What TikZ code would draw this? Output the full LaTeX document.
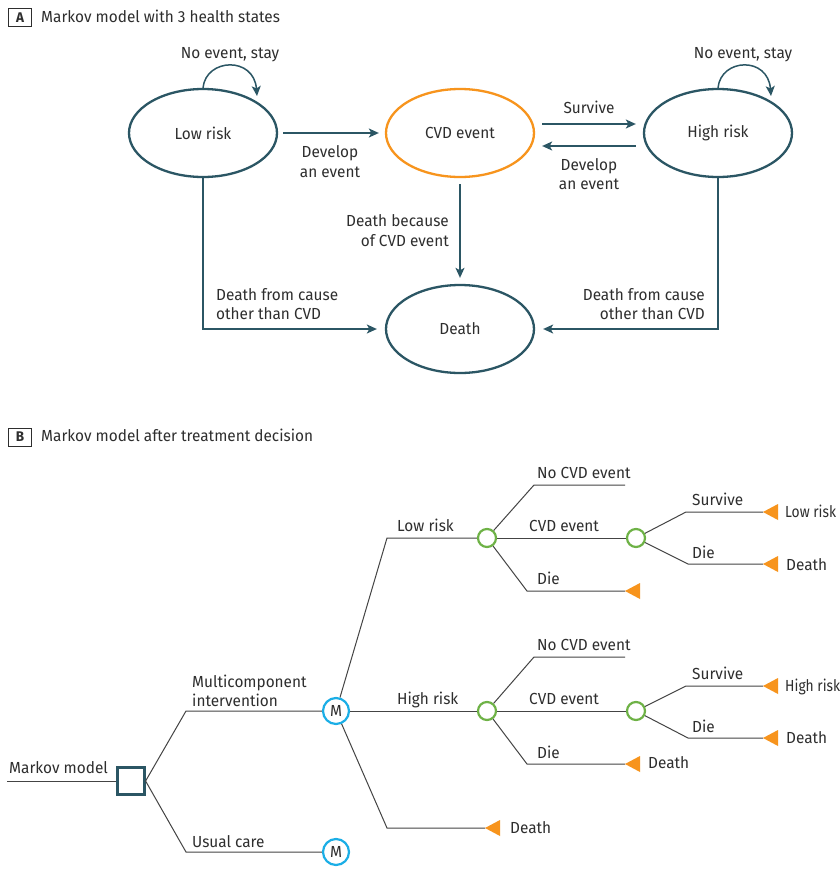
\documentclass[tikz,border=0pt]{standalone}
\usepackage{fontspec}
\setmainfont{Fira Sans}[FakeStretch=0.96]
\usetikzlibrary{arrows.meta,shapes.geometric,calc}
\definecolor{mteal}{HTML}{2B5664}
\definecolor{morange}{HTML}{F7941D}
\definecolor{mgreen}{HTML}{6EB246}
\definecolor{mcyan}{HTML}{1BAEE6}
\definecolor{mtext}{HTML}{2E2E2E}
\definecolor{mline}{HTML}{444444}
\tikzset{
  state/.style={ellipse, draw=mteal, line width=2.3pt, minimum width=148pt, minimum height=88pt, inner sep=0pt, text=mtext},
  cvdstate/.style={state, draw=morange},
  arr/.style={draw=mteal, line width=1.5pt, -{Stealth[length=10pt,width=9pt,inset=2.5pt]}},
  lbl/.style={text=mtext, inner sep=0pt},
  tree/.style={draw=mline, line width=1pt},
  chance/.style={circle, draw=mgreen, line width=2.2pt, minimum size=18pt, inner sep=0pt},
  markov/.style={circle, draw=mcyan, line width=2.2pt, minimum size=26pt, inner sep=0pt, text=mtext},
  decision/.style={rectangle, draw=mteal, line width=2.2pt, minimum size=27pt, inner sep=0pt},
  tag/.style={draw=mtext, line width=1pt, minimum width=23pt, minimum height=18pt, inner sep=0pt, text=mtext, font=\fontsize{14}{16}\selectfont\bfseries},
  term/.pic={\fill[morange] (0,0) -- (15,-8) -- (15,8) -- cycle;}
}
\begin{document}
\begin{tikzpicture}[x=1pt,y=-1pt,font=\fontsize{16}{19}\selectfont]
\useasboundingbox[fill=white] (0,0) rectangle (840,871);

% ---------------- Panel A ----------------
\node[tag] (tagA) at (20,17.5) {A};
\node[lbl, anchor=base west] (titleA) at (41,22) {Markov model with 3 health states};

\node[state] (low) at (203,133) {Low risk};
\node[cvdstate] (cvd) at (460,133) {CVD event};
\node[state] (high) at (718,133) {High risk};
\node[state] (death) at (460,329) {Death};

% self loops
\coordinate (lowloop) at (257,96);
\coordinate (highloop) at (771,96);
\draw[arr] (low.north) .. controls (206,58) and (254,56) .. (lowloop);
\draw[arr] (high.north) .. controls (721,58) and (768,56) .. (highloop);
\node[lbl, anchor=base] (lNo1) at (230,58) {No event, stay};
\node[lbl, anchor=base] (lNo2) at (743,58) {No event, stay};

% low -> cvd
\draw[arr] ([xshift=5pt]low.east) -- ([xshift=-6pt]cvd.west);
\node[lbl, anchor=base] (lDev1a) at (330,157) {Develop};
\node[lbl, anchor=base] (lDev1b) at (330,177) {an event};

% cvd <-> high
\draw[arr] ([xshift=7pt,yshift=9pt]cvd.east) -- ([xshift=-7pt,yshift=9pt]high.west);
\draw[arr] ([xshift=-7pt,yshift=-13pt]high.west) -- ([xshift=7pt,yshift=-13pt]cvd.east);
\node[lbl, anchor=base] (lSurv) at (589,113) {Survive};
\node[lbl, anchor=base] (lDev2a) at (589,170) {Develop};
\node[lbl, anchor=base] (lDev2b) at (589,189) {an event};

% to death
\draw[arr] ([yshift=-6pt]cvd.south) -- ([yshift=6pt]death.north);
\node[lbl, anchor=base east] (lDbc1) at (449,226) {Death because};
\node[lbl, anchor=base east] (lDbc2) at (449,246) {of CVD event};

\draw[arr] (low.south) |- ([xshift=-8pt]death.west);
\draw[arr] (high.south) |- ([xshift=8pt]death.east);
\node[lbl, anchor=base west] (lOth1) at (216,300) {Death from cause};
\node[lbl, anchor=base west] (lOth2) at (216,319) {other than CVD};
\node[lbl, anchor=base east] (lOth3) at (705,300) {Death from cause};
\node[lbl, anchor=base east] (lOth4) at (705,319) {other than CVD};

% ---------------- Panel B ----------------
\node[tag] (tagB) at (20,437) {B};
\node[lbl, anchor=base west] (titleB) at (41,441) {Markov model after treatment decision};

\coordinate (root) at (7,781);
\node[decision] (dec) at (131,781) {};
\node[markov] (m1) at (336,711) {M};
\node[markov] (m2) at (336,852) {M};
\draw[tree] (root) -- (dec.west);
\node[lbl, anchor=base west] (lMm) at (9,773) {Markov model};

\coordinate (kMc) at (186,711);
\coordinate (kUc) at (186,852);
\draw[tree] (dec.east) -- (kMc) -- (m1);
\draw[tree] (dec.east) -- (kUc) -- (m2);
\node[lbl, anchor=base west] (lMc1) at (192,687) {Multicomponent};
\node[lbl, anchor=base west] (lMc2) at (192,706) {intervention};
\node[lbl, anchor=base west] (lUc) at (192,847) {Usual care};

% chance nodes
\node[chance] (c1) at (487,538) {};
\node[chance] (c2) at (636,538) {};
\node[chance] (c3) at (487,711) {};
\node[chance] (c4) at (636,711) {};

\coordinate (kLow) at (387,538);
\coordinate (kDth) at (387,828);
\coordinate (t7) at (485,828);
\draw[tree] (m1) -- (kLow) -- (c1);
\draw[tree] (m1) -- (c3);
\draw[tree] (m1) -- (kDth) -- (t7);
\pic at (t7) {term};
\node[lbl, anchor=base west] (lLow) at (397,531) {Low risk};
\node[lbl, anchor=base west] (lHigh) at (397,704) {High risk};
\node[lbl, anchor=base west] (lD7) at (510,833) {Death};

% low-risk subtree
\coordinate (kNo1) at (534,485);
\coordinate (eNo1) at (625,485);
\coordinate (kDie1) at (527,591);
\coordinate (t1) at (625,591);
\draw[tree] (c1) -- (kNo1) -- (eNo1);
\draw[tree] (c1) -- (c2);
\draw[tree] (c1) -- (kDie1) -- (t1);
\pic at (t1) {term};
\node[lbl, anchor=base west] (lNoC1) at (537,478) {No CVD event};
\node[lbl, anchor=base west] (lCvd1) at (529,531) {CVD event};
\node[lbl, anchor=base west] (lDie1) at (537,584) {Die};

\coordinate (kS1) at (686,512);
\coordinate (t2) at (763,512);
\coordinate (kD1) at (688,564);
\coordinate (t3) at (763,564);
\draw[tree] (c2) -- (kS1) -- (t2);
\draw[tree] (c2) -- (kD1) -- (t3);
\pic at (t2) {term};
\pic at (t3) {term};
\node[lbl, anchor=base west] (lSv1) at (692,505) {Survive};
\node[lbl, anchor=base west] (lDi1) at (692,558) {Die};
\node[lbl, anchor=base west] (lLr) at (785,517) {\scalebox{0.9}[1]{Low risk}};
\node[lbl, anchor=base west] (lDt1) at (786,570) {Death};

% high-risk subtree
\coordinate (kNo2) at (534,657);
\coordinate (eNo2) at (625,657);
\coordinate (kDie2) at (527,764);
\coordinate (t4) at (625,764);
\draw[tree] (c3) -- (kNo2) -- (eNo2);
\draw[tree] (c3) -- (c4);
\draw[tree] (c3) -- (kDie2) -- (t4);
\pic at (t4) {term};
\node[lbl, anchor=base west] (lNoC2) at (537,650) {No CVD event};
\node[lbl, anchor=base west] (lCvd2) at (529,704) {CVD event};
\node[lbl, anchor=base west] (lDie2) at (537,758) {Die};
\node[lbl, anchor=base west] (lDt4) at (648,768) {Death};

\coordinate (kS2) at (686,686);
\coordinate (t5) at (763,686);
\coordinate (kD2) at (688,738);
\coordinate (t6) at (763,738);
\draw[tree] (c4) -- (kS2) -- (t5);
\draw[tree] (c4) -- (kD2) -- (t6);
\pic at (t5) {term};
\pic at (t6) {term};
\node[lbl, anchor=base west] (lSv2) at (692,679) {Survive};
\node[lbl, anchor=base west] (lDi2) at (692,732) {Die};
\node[lbl, anchor=base west] (lHr) at (785,691) {\scalebox{0.9}[1]{High risk}};
\node[lbl, anchor=base west] (lDt2) at (786,743) {Death};
\end{tikzpicture}
\end{document}
